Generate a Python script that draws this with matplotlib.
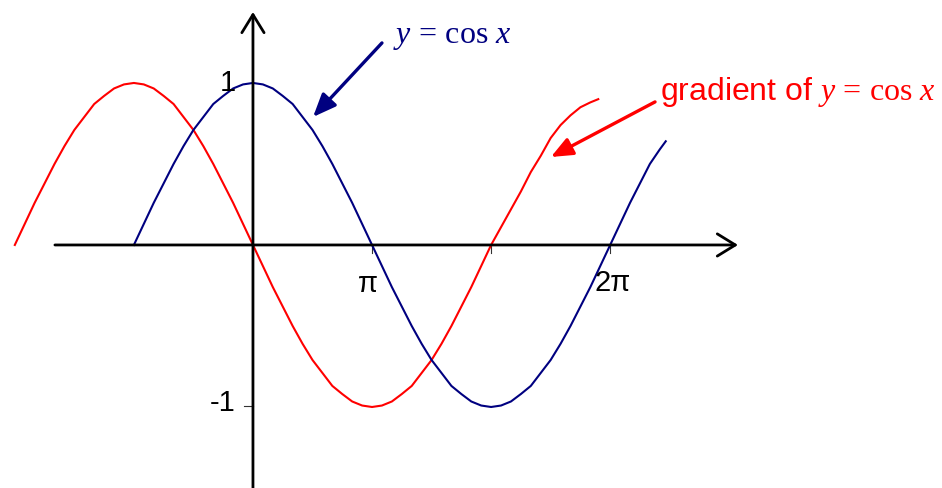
import matplotlib
matplotlib.use("Agg")
import matplotlib.pyplot as plt
import numpy as np

plt.rcParams['mathtext.fontset'] = 'custom'
plt.rcParams['mathtext.rm'] = 'Liberation Serif'
plt.rcParams['mathtext.it'] = 'Liberation Serif:italic'
plt.rcParams['font.family'] = ['Liberation Sans', 'DejaVu Sans']

# x positions in degrees (pi = 180)
blue_x = [-90, -82.5, -75, -67.5, -60, -52.5, -45, -37.5, -30, -22.5, -15, -7.5,
          0, 7.5, 15, 22.5, 30, 37.5, 45, 52.5, 60, 67.5, 75, 82.5,
          90, 97.5, 105, 112.5, 120, 127.5, 135, 142.5, 150, 157.5, 165, 172.5,
          180, 187.5, 195, 202.5, 210, 217.5, 225, 232.5, 240, 247.5, 255, 262.5,
          270, 277.5, 285, 292.5, 300, 307.5, 312]
blue_y = [0.00, 0.13, 0.26, 0.38, 0.50, 0.61, 0.71, 0.79, 0.87, 0.92, 0.966, 0.991,
          1.00, 0.991, 0.966, 0.92, 0.87, 0.79, 0.71, 0.61, 0.50, 0.38, 0.26, 0.13,
          0.00, -0.13, -0.26, -0.38, -0.50, -0.61, -0.71, -0.79, -0.87, -0.92, -0.966, -0.991,
          -1.00, -0.991, -0.966, -0.92, -0.87, -0.79, -0.71, -0.61, -0.50, -0.38, -0.26, -0.13,
          0.00, 0.13, 0.26, 0.38, 0.50, 0.59, 0.64]

red_x = [-180, -172.5, -165, -157.5, -150, -142.5, -135, -127.5, -120, -112.5, -105, -97.5,
         -90, -82.5, -75, -67.5, -60, -52.5, -45, -37.5, -30, -22.5, -15, -7.5,
         0, 7.5, 15, 22.5, 30, 37.5, 45, 52.5, 60, 67.5, 75, 82.5,
         90, 97.5, 105, 112.5, 120, 127.5, 135, 142.5, 150, 157.5, 165, 172.5,
         180, 187.5, 195, 202.5, 210, 217.5, 225, 232.5, 240, 247.5, 255, 261]
red_y = [0.00, 0.13, 0.26, 0.38, 0.50, 0.61, 0.71, 0.79, 0.87, 0.92, 0.966, 0.991,
         1.00, 0.991, 0.966, 0.92, 0.87, 0.79, 0.71, 0.61, 0.50, 0.38, 0.26, 0.13,
         0.00, -0.13, -0.26, -0.38, -0.50, -0.61, -0.71, -0.79, -0.87, -0.92, -0.966, -0.991,
         -1.00, -0.991, -0.966, -0.92, -0.87, -0.79, -0.71, -0.61, -0.50, -0.38, -0.26, -0.13,
         0.00, 0.11, 0.22, 0.33, 0.45, 0.55, 0.66, 0.74, 0.80, 0.85, 0.88, 0.90]

x_ticks = [90, 180, 270]
x_tick_labels = {90: 'π', 270: '2π'}
y_tick_labels = {1: '1', -1: '-1'}

NAVY = '#000080'
RED = '#FF0000'

fig = plt.figure(figsize=(9.42, 4.88), dpi=100)
ax = fig.add_axes([0, 0, 1, 1])
ax.set_xlim(-191.2, 520.8)
ax.set_ylim(-1.5, 1.512)
ax.axis('off')

# axes with open arrowheads
ax.annotate('', xy=(366.6, 0), xytext=(-149.7, 0),
            arrowprops=dict(arrowstyle='->,head_length=1.3,head_width=0.8',
                            color='black', lw=2.0, shrinkA=0, shrinkB=0))
ax.annotate('', xy=(0, 1.438), xytext=(0, -1.5),
            arrowprops=dict(arrowstyle='->,head_length=1.3,head_width=0.8',
                            color='black', lw=2.0, shrinkA=0, shrinkB=0))

# tick marks
for t in x_ticks:
    ax.plot([t, t], [0, -0.05], color='#333333', lw=0.8)
ax.plot([-6.8, 0], [-0.994, -0.994], color='#333333', lw=0.8)

# curves
ax.plot(red_x, red_y, color=RED, lw=1.5, solid_joinstyle='round')
ax.plot(blue_x, blue_y, color=NAVY, lw=1.5, solid_joinstyle='round')

# tick labels
ax.text(-18.9, 1.0, y_tick_labels[1], fontsize=21, ha='center', va='center')
ax.text(-22.7, -0.975, y_tick_labels[-1], fontsize=21, ha='center', va='center')
ax.text(86.9, -0.24, x_tick_labels[90], fontsize=21, ha='center', va='center')
ax.text(272.1, -0.235, x_tick_labels[270], fontsize=21, ha='center', va='center')

# labels
ax.text(150.4, 1.247, r'$y \,=\, \mathrm{cos}\ x$', color=NAVY, fontsize=23,
        ha='center', va='baseline')
ax.text(307.6, 0.895, r'gradient of $y \,=\, \mathrm{cos}\ x$', color=RED, fontsize=23,
        ha='left', va='baseline')

# pointer arrows
ax.annotate('', xy=(45.4, 0.79), xytext=(97.5, 1.247),
            arrowprops=dict(arrowstyle='-|>,head_length=1.4,head_width=0.58',
                            color=NAVY, lw=2.4, shrinkA=0, shrinkB=0))
ax.annotate('', xy=(225.2, 0.543), xytext=(303.9, 0.883),
            arrowprops=dict(arrowstyle='-|>,head_length=1.3,head_width=0.55',
                            color=RED, lw=2.4, shrinkA=0, shrinkB=0))

fig.savefig('out.png', dpi=100)
